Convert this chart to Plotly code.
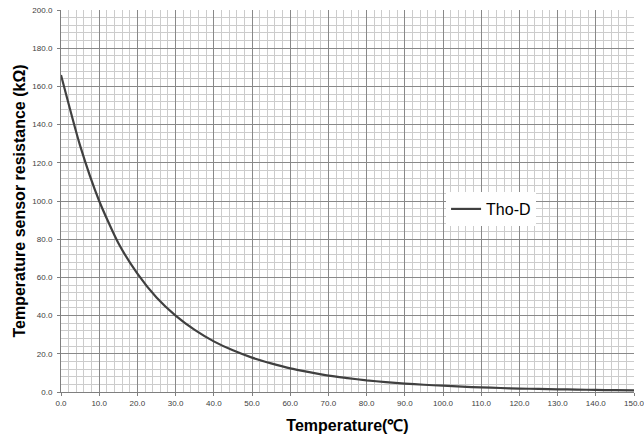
import plotly.graph_objects as go

temperature_c = list(range(0, 151, 5))
resistance_kohm = [166, 129, 100, 78, 62, 49.5, 40, 32.5, 26.5, 21.8, 18, 15,
                   12.4, 10.4, 8.6, 7.3, 6.1, 5.2, 4.4, 3.8, 3.3, 2.8, 2.4,
                   2.1, 1.8, 1.6, 1.4, 1.25, 1.1, 0.95, 0.85]
series_name = "Tho-D"
x_title = "Temperature(℃)"
y_title = "Temperature sensor resistance (kΩ)"

fig = go.Figure()
fig.add_trace(go.Scatter(
    x=temperature_c, y=resistance_kohm, mode="lines", name=series_name,
    line=dict(color="#404040", width=2.2, shape="spline", smoothing=0.6),
))

major_grid = "#898989"
minor_grid = "#cccccc"
tick_font = dict(family="Liberation Sans, Arial", size=8, color="#404040")
title_font = dict(family="Liberation Sans, Arial", size=16, color="#000000", weight="bold")

fig.update_layout(
    width=644, height=439,
    margin=dict(l=61, r=10, t=10, b=47, autoexpand=False),
    paper_bgcolor="white", plot_bgcolor="white",
    showlegend=True,
    legend=dict(x=0.672, y=0.479, xanchor="left", yanchor="middle",
                bgcolor="white", borderwidth=0,
                font=dict(family="Liberation Sans, Arial", size=16, color="#000000")),
    xaxis=dict(
        range=[0, 150], dtick=10, tickformat=".1f", tickfont=tick_font,
        ticklabeloverflow="allow", automargin=False,
        showgrid=True, gridcolor=major_grid, gridwidth=1,
        minor=dict(dtick=2, showgrid=True, gridcolor=minor_grid, gridwidth=1),
        showline=True, linecolor="#7f7f7f", linewidth=1,
        ticks="outside", ticklen=3, tickcolor="#7f7f7f",
        zeroline=False,
        title=dict(text=x_title, standoff=13, font=title_font),
    ),
    yaxis=dict(
        range=[0, 200], dtick=20, tickformat=".1f", tickfont=tick_font,
        ticklabeloverflow="allow", automargin=False, ticklabelstandoff=3,
        showgrid=True, gridcolor=major_grid, gridwidth=1,
        minor=dict(dtick=4, showgrid=True, gridcolor=minor_grid, gridwidth=1),
        showline=True, linecolor="#7f7f7f", linewidth=1,
        ticks="outside", ticklen=3, tickcolor="#7f7f7f",
        zeroline=False,
        title=dict(text=y_title, standoff=2, font=title_font),
    ),
)

fig.write_html("out.html", config={"displayModeBar": False},
               post_script="document.body.style.margin='0';")
